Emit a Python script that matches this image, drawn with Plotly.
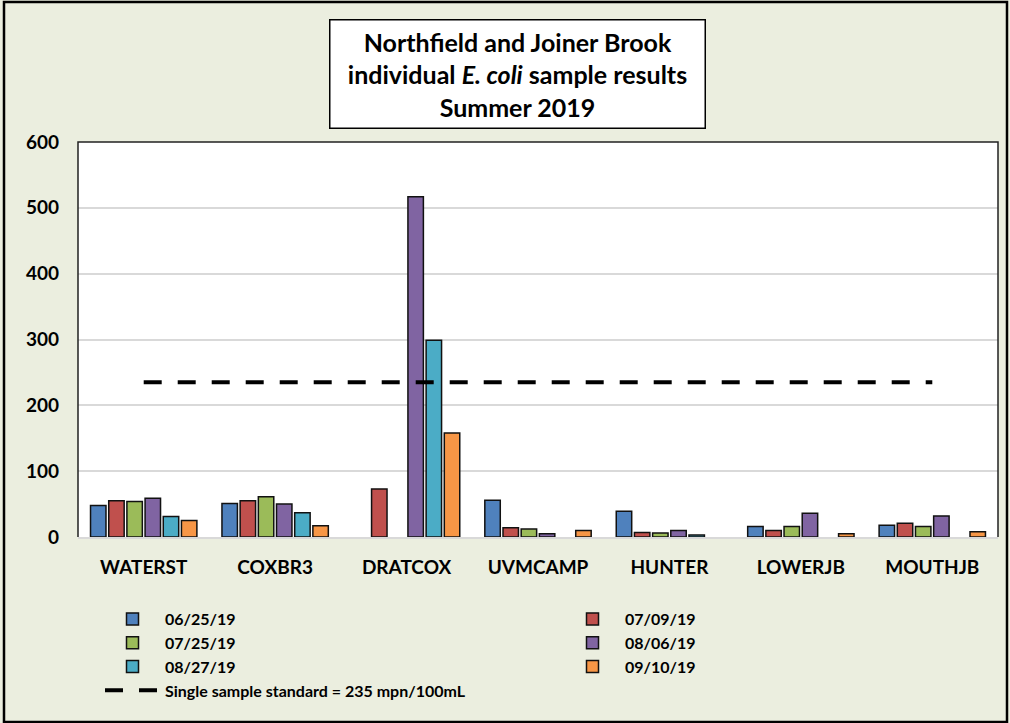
import plotly.graph_objects as go

sites = ["WATERST", "COXBR3", "DRATCOX", "UVMCAMP", "HUNTER", "LOWERJB", "MOUTHJB"]
dates = ["06/25/19", "07/09/19", "07/25/19", "08/06/19", "08/27/19", "09/10/19"]
s_0625 = [48, 51, None, 56, 39, 16, 18]
s_0709 = [55, 55, 73, 14, 7, 10, 21]
s_0725 = [54, 61, None, 12, 6, 16, 16]
s_0806 = [59, 50, 517, 5, 10, 36, 32]
s_0827 = [31, 37, 299, None, 3, None, None]
s_0910 = [25, 17, 158, 10, None, 5, 8]
series = [s_0625, s_0709, s_0725, s_0806, s_0827, s_0910]
colors = ["#4F81BD", "#C0504D", "#9BBB59", "#8064A2", "#4BACC6", "#F79646"]
standard = 235
standard_label = "Single sample standard = 235 mpn/100mL"

FONT = "Lato"
BG = "#EBEEDF"

fig = go.Figure()
for d, vals, c in zip(dates, series, colors):
    fig.add_trace(go.Bar(
        x=sites, y=vals, name=d,
        marker=dict(color=c, line=dict(color="#111111", width=1.5)),
    ))

fig.add_trace(go.Scatter(
    x=[sites[0], sites[-1]], y=[standard, standard], mode="lines",
    name=standard_label,
    line=dict(color="black", width=4, dash="18px,16px"),
))

L, R, T, B = 78, 12, 142, 186
W, H = 1010, 723
pw = W - L - R
ph = H - T - B

def px(xp):
    return (xp - L) / pw

def py(yp):
    return (H - B - yp) / ph

fig.update_layout(
    width=W, height=H,
    margin=dict(l=L, r=R, t=T, b=B, autoexpand=False),
    paper_bgcolor=BG,
    plot_bgcolor="white",
    font=dict(family=FONT, size=16, color="black"),
    barmode="group",
    bargap=0.17,
    bargroupgap=0.15,
    showlegend=True,
    legend=dict(
        orientation="h",
        xref="container", yref="container",
        x=100 / W, xanchor="left",
        y=(H - 602) / H, yanchor="top",
        entrywidth=390, entrywidthmode="pixels",
        itemwidth=55,
        font=dict(family=FONT, size=16, color="black", weight="bold"),
        bgcolor="rgba(0,0,0,0)",
        traceorder="normal",
    ),
    xaxis=dict(
        showgrid=False,
        showline=True, linecolor="#D9D9D9", linewidth=2,
        tickfont=dict(family=FONT, size=19, color="black", weight="bold"),
        ticks="", ticklabelstandoff=12,
    ),
    yaxis=dict(
        range=[0, 600],
        tickvals=[0, 100, 200, 300, 400, 500, 600],
        showgrid=True, gridcolor="#D9D9D9", gridwidth=1.5,
        zeroline=False,
        showline=False,
        tickfont=dict(family=FONT, size=19, color="black", weight="bold"),
        ticks="", ticklabelstandoff=18,
    ),
    annotations=[dict(
        xref="paper", yref="paper",
        x=px(517), y=py(74), xanchor="center", yanchor="middle",
        text="<b>Northfield and Joiner Brook<br>individual <i>E. coli</i> sample results<br>Summer 2019</b>",
        showarrow=False,
        font=dict(family=FONT, size=25, color="black"),
        bgcolor="white", bordercolor="black", borderwidth=1.5,
        width=366, height=99, borderpad=4, align="center",
    )],
    shapes=[
        dict(type="path", xref="paper", yref="paper",
             path="M 0 0 L 0 1 L 1 1 L 1 0",
             line=dict(color="#222222", width=1.5)),
        dict(type="rect", xref="paper", yref="paper",
             x0=px(4), x1=px(1007), y0=py(722), y1=py(2),
             line=dict(color="black", width=2.5)),
    ],
)

fig.write_html("out.html", config={"displayModeBar": False},
               post_script="document.body.style.margin='0px';")
